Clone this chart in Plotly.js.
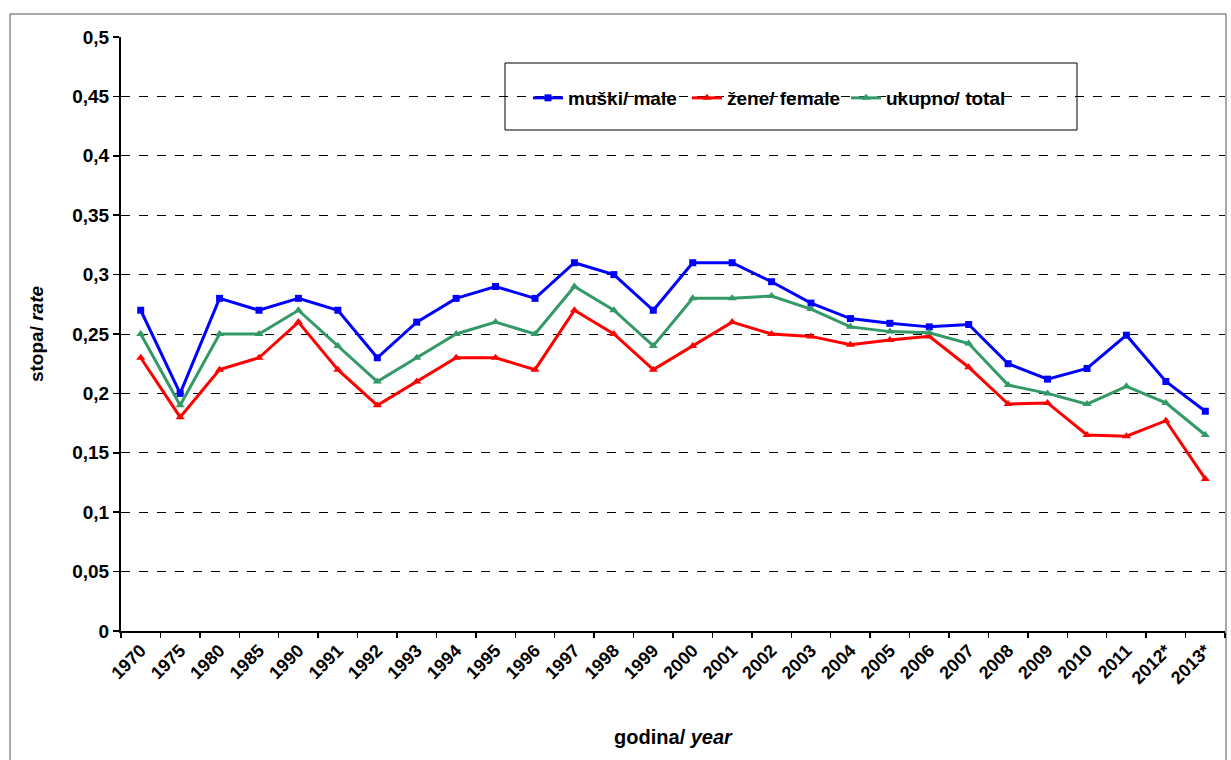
<!DOCTYPE html>
<html>
<head>
<meta charset="utf-8">
<script src="https://cdn.plot.ly/plotly-3.0.1.min.js"></script>
<style>
html,body{margin:0;padding:0;background:#fff;}
#chart{width:1231px;height:760px;}
</style>
</head>
<body>
<div id="chart"></div>
<script>
var years = ["1970","1975","1980","1985","1990","1991","1992","1993","1994","1995","1996","1997","1998","1999","2000","2001","2002","2003","2004","2005","2006","2007","2008","2009","2010","2011","2012*","2013*"];
var male = [0.27,0.20,0.28,0.27,0.28,0.27,0.23,0.26,0.28,0.29,0.28,0.31,0.30,0.27,0.31,0.31,0.294,0.276,0.263,0.259,0.256,0.258,0.225,0.212,0.221,0.249,0.210,0.185];
var female = [0.23,0.18,0.22,0.23,0.26,0.22,0.19,0.21,0.23,0.23,0.22,0.27,0.25,0.22,0.24,0.26,0.25,0.248,0.241,0.245,0.248,0.222,0.191,0.192,0.165,0.164,0.177,0.128];
var total = [0.25,0.19,0.25,0.25,0.27,0.24,0.21,0.23,0.25,0.26,0.25,0.29,0.27,0.24,0.28,0.28,0.282,0.271,0.256,0.252,0.251,0.242,0.207,0.200,0.191,0.206,0.192,0.165];
var yTicks = [0,0.05,0.1,0.15,0.2,0.25,0.3,0.35,0.4,0.45,0.5];

var W=1231,H=760,L=121,R=1225,T=37,B=631;
function px(x){return (x-L)/(R-L);}
function py(y){return (B-y)/(B-T);}

var traces = [
 {x:years,y:male,name:"muški/ male",type:"scatter",mode:"lines+markers",
  line:{color:"#0000FF",width:3},marker:{symbol:"square",size:7,color:"#0000FF"}},
 {x:years,y:female,name:"žene/ female",type:"scatter",mode:"lines+markers",
  line:{color:"#FF0000",width:3},marker:{symbol:"triangle-up",size:8,color:"#FF0000"}},
 {x:years,y:total,name:"ukupno/ total",type:"scatter",mode:"lines+markers",
  line:{color:"#339966",width:3},marker:{symbol:"triangle-up",size:8,color:"#339966"}}
];

var layout = {
 width:W,height:H,
 margin:{l:L,r:W-R,t:T,b:H-B},
 paper_bgcolor:"#fff",plot_bgcolor:"#fff",
 separators:",.",
 font:{family:"Liberation Sans, Arial, sans-serif",color:"#000"},
 showlegend:true,
 legend:{orientation:"h",x:px(528),y:py(79),xanchor:"left",yanchor:"top",
   bgcolor:"rgba(0,0,0,0)",borderwidth:0,
   font:{size:19,weight:"bold",family:"Liberation Sans, Arial, sans-serif"},
   entrywidth:114,entrywidthmode:"pixels",itemwidth:30},
 xaxis:{type:"category",range:[-0.5,27.5],tickson:"boundaries",ticks:"outside",ticklen:5,
   tickcolor:"#000",tickwidth:1.5,showline:true,linecolor:"#000",linewidth:2,
   showgrid:false,tickangle:-45,
   tickfont:{size:18,weight:"bold"},
   title:{text:"<b>godina/ <i>year</i></b>",font:{size:20},standoff:43},
   fixedrange:true},
 yaxis:{range:[0,0.5],tickvals:yTicks,ticks:"outside",ticklen:6,tickcolor:"#000",tickwidth:1.5,
   showline:true,linecolor:"#000",linewidth:2,
   showgrid:true,gridcolor:"#000",gridwidth:1,griddash:"dash",zeroline:false,
   tickfont:{size:19,weight:"bold"},
   title:{text:"<b>stopa/ <i>rate</i></b>",font:{size:19},standoff:24},
   fixedrange:true},
 shapes:[
  {type:"rect",xref:"paper",yref:"paper",x0:px(10),x1:px(1226),y0:py(775),y1:py(14),
   line:{color:"#555",width:1},fillcolor:"rgba(0,0,0,0)",layer:"below"},
  {type:"rect",xref:"paper",yref:"paper",x0:px(505),x1:px(1077),y0:py(130),y1:py(63),
   line:{color:"#000",width:1},fillcolor:"#fff",layer:"below"}
 ]
};

Plotly.newPlot("chart",traces,layout,{displayModeBar:false,staticPlot:true});
</script>
</body>
</html>
